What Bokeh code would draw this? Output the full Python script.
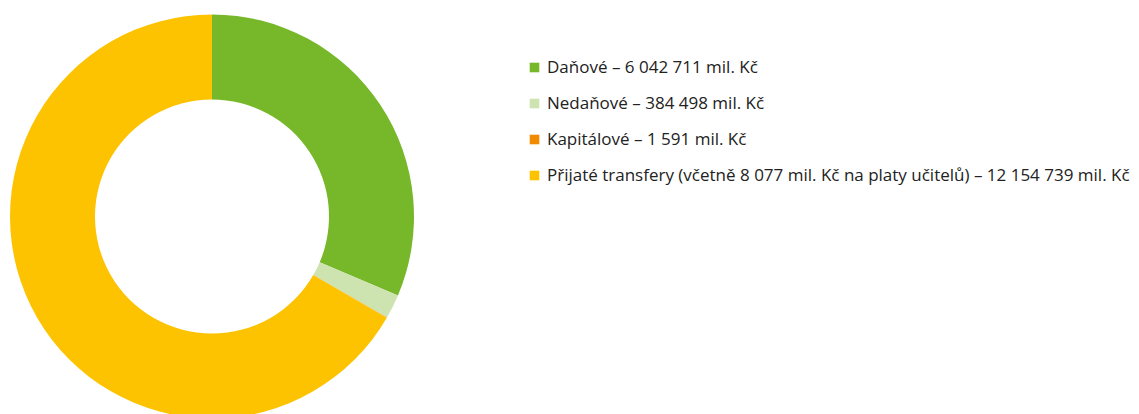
import math
from bokeh.plotting import figure
from bokeh.models import ColumnDataSource, Legend, LegendItem, Range1d
from bokeh.embed import file_html
from bokeh.resources import INLINE

categories = ["Daňové", "Nedaňové", "Kapitálové",
              "Přijaté transfery (včetně 8 077 mil. Kč na platy učitelů)"]
# legend amounts (mil. Kč), as printed
labels = ["6 042 711", "384 498", "1 591", "12 154 739"]
# shares of the ring as drawn (%)
shares = [31.39, 1.94, 0.02, 66.65]
colors = ["#77b82a", "#cde3b0", "#f18a00", "#fdc300"]

W, H = 1139, 414
total = sum(shares)
starts, ends = [], []
acc = 0.0
for v in shares:
    starts.append(math.pi / 2 - acc / total * 2 * math.pi)
    acc += v
    ends.append(math.pi / 2 - acc / total * 2 * math.pi)

src = ColumnDataSource(dict(cat=categories, val=shares, start=starts, end=ends, color=colors,
                            x=[211.5] * 4, y=[H - 216] * 4))

p = figure(width=W, height=H, output_backend="svg", toolbar_location=None,
           x_range=Range1d(0, W), y_range=Range1d(0, H), min_border=0)
p.axis.visible = False
p.grid.visible = False
p.outline_line_color = None
p.background_fill_color = None
p.border_fill_color = None

p.annular_wedge(x="x", y="y", inner_radius=117, outer_radius=202,
                start_angle="start", end_angle="end", direction="clock",
                fill_color="color", line_color=None, source=src)

items = []
for c, lab, col in zip(categories, labels, colors):
    r = p.quad(left=[-1000], right=[-990], bottom=[-1000], top=[-990],
               fill_color=col, line_color=None)
    items.append(LegendItem(label=f"{c} – {lab} mil. Kč", renderers=[r]))

legend = Legend(items=items, location=(528, H - 186), orientation="vertical",
                glyph_width=12, glyph_height=12, label_standoff=7, spacing=13,
                label_height=20, label_text_font="Open Sans", label_text_font_size="17px",
                label_text_color="#222222", border_line_color=None,
                background_fill_alpha=0, padding=0, margin=0)
p.add_layout(legend)

open("out.html", "w").write(file_html(p, INLINE))
